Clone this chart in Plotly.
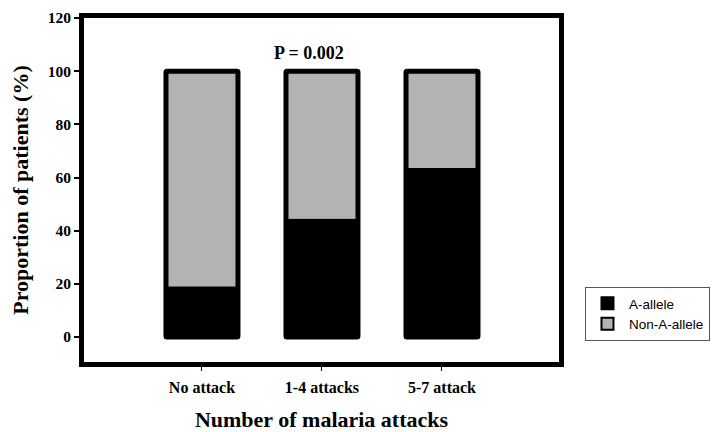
import plotly.graph_objects as go

categories = ["No attack", "1-4 attacks", "5-7 attack"]
a_allele = [19.1, 44.6, 63.6]
non_a_allele = [80.9, 55.4, 36.4]
y_ticks = [0, 20, 40, 60, 80, 100, 120]
p_text = "P = 0.002"

BLACK = "#000000"
GRAY = "#b3b3b3"
serif = "Liberation Serif, Times New Roman, serif"
sans = "Liberation Sans, Arial, sans-serif"

totals = [a + n for a, n in zip(a_allele, non_a_allele)]
idx = list(range(len(categories)))

fig = go.Figure()
fig.add_trace(go.Bar(x=idx, y=a_allele, base=[0] * len(idx), width=0.6,
                     marker=dict(color=BLACK, line=dict(width=0)),
                     showlegend=False, name="A-allele"))
fig.add_trace(go.Bar(x=idx, y=non_a_allele, base=a_allele, width=0.6,
                     marker=dict(color=GRAY, line=dict(width=0)),
                     showlegend=False, name="Non-A-allele"))
fig.add_trace(go.Bar(x=idx, y=totals, base=[0] * len(idx), width=0.6,
                     marker=dict(color="rgba(0,0,0,0)", line=dict(color=BLACK, width=5),
                                 cornerradius=1),
                     showlegend=False, hoverinfo="skip"))
fig.add_trace(go.Bar(x=[None], y=[None], name="A-allele",
                     marker=dict(color=BLACK, line=dict(color=BLACK, width=2))))
fig.add_trace(go.Bar(x=[None], y=[None], name="Non-A-allele",
                     marker=dict(color=GRAY, line=dict(color=BLACK, width=2))))

fig.add_annotation(x=0.89, y=107, text="<b>" + p_text + "</b>", showarrow=False,
                   font=dict(family=serif, size=18, color=BLACK))

fig.update_layout(
    width=715, height=432,
    margin=dict(l=84, r=156, t=18, b=70, autoexpand=False),
    paper_bgcolor="white", plot_bgcolor="white",
    barmode="overlay",
    showlegend=True,
    legend=dict(x=1.0547, y=0.218, xanchor="left", yanchor="top",
                bordercolor="#555555", borderwidth=1,
                font=dict(family=sans, size=13.5, color=BLACK),
                tracegroupgap=0, itemsizing="constant", itemwidth=33),
    xaxis=dict(range=[-0.983, 2.975], tickmode="array", tickvals=idx,
               ticktext=["<b>%s</b>" % c for c in categories], automargin=False,
               showgrid=False, zeroline=False, showline=True, linecolor=BLACK,
               linewidth=5, mirror=True, ticks="outside", ticklen=4, tickwidth=1,
               ticklabelstandoff=3,
               tickcolor=BLACK, tickfont=dict(family=serif, size=16, color=BLACK),
               title=dict(text="<b>Number of malaria attacks</b>", standoff=20,
                          font=dict(family=serif, size=22, color=BLACK))),
    yaxis=dict(range=[-9.4, 120], tickmode="array", tickvals=y_ticks,
               ticktext=["<b>%d</b>" % t for t in y_ticks], automargin=False,
               showgrid=False, zeroline=False, showline=True, linecolor=BLACK,
               linewidth=5, mirror=True, ticks="outside", ticklen=5, tickwidth=2,
               tickcolor=BLACK, tickfont=dict(family=serif, size=15.5, color=BLACK),
               title=dict(text="<b>Proportion of patients (%)</b>", standoff=14,
                          font=dict(family=serif, size=22, color=BLACK))),
)

fig.write_html("out.html", config={"displayModeBar": False},
               post_script="document.body.style.margin='0';")
